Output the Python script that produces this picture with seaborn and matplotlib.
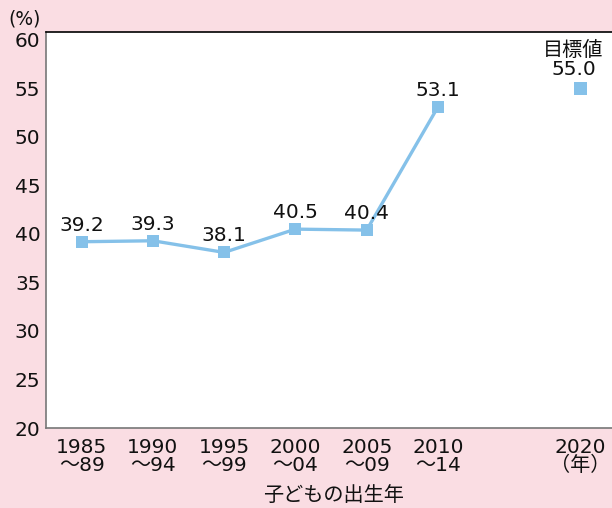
import matplotlib
matplotlib.use("Agg")
import matplotlib.pyplot as plt
import seaborn as sns
import numpy as np
import pandas as pd

# data
periods = ["1985\n～89", "1990\n～94", "1995\n～99", "2000\n～04", "2005\n～09", "2010\n～14"]
rates = [39.2, 39.3, 38.1, 40.5, 40.4, 53.1]
target_label = "2020\n（年）"
target_value = 55.0

BG = "#fadde3"
BLUE = "#85c1e9"
FS = 14.5

sns.set_theme(style="white")
plt.rcParams["font.family"] = ["DejaVu Sans", "Noto Sans CJK JP"]

fig = plt.figure(figsize=(6.12, 5.08), dpi=100, facecolor=BG)
ax = fig.add_axes([46 / 612, 80 / 508, 568 / 612, 396 / 508])
ax.set_facecolor("white")

df = pd.DataFrame({"pos": np.arange(len(periods)), "rate": rates})
sns.lineplot(data=df, x="pos", y="rate", ax=ax, color=BLUE, linewidth=2.4,
             marker="s", markersize=9, markeredgewidth=0, markerfacecolor=BLUE)
target_pos = len(periods) + 1
sns.scatterplot(x=[target_pos], y=[target_value], ax=ax, marker="s", s=85,
                color=BLUE, edgecolor="none")

# value labels
for p, v in zip(df["pos"], df["rate"]):
    ax.text(p, v + 1.7, f"{v:.1f}", ha="center", va="center", fontsize=FS, color="#111111")
ax.text(target_pos - 0.1, target_value + 1.0, f"目標値\n{target_value:.1f}", ha="center",
        va="bottom", fontsize=FS, color="#111111", linespacing=1.0)

ax.set_ylim(20, 60.82)
ax.set_xlim(-0.5, 7.47)
ax.set_yticks(range(20, 61, 5))
ax.set_xticks(range(8))
ax.set_xticklabels(periods + ["", target_label], fontsize=FS, linespacing=0.95)
ax.set_xticks(np.arange(0.5, 7.5, 1), minor=True)
ax.tick_params(axis="x", which="major", length=0, pad=7, colors="#111111")
ax.tick_params(axis="x", which="minor", length=5, direction="in", width=0.8, color="#222222")
ax.tick_params(axis="y", which="major", length=5, direction="in", width=0.8,
               color="#222222", labelsize=FS, labelcolor="#111111", pad=4)
ax.set_xlabel("")
ax.set_ylabel("")

for side in ["left", "bottom"]:
    ax.spines[side].set_color("#777777")
    ax.spines[side].set_linewidth(1.2)
ax.spines["top"].set_color("black")
ax.spines["top"].set_linewidth(1.2)
ax.spines["right"].set_visible(False)

fig.text(25 / 612, 1 - 19 / 508, "(%)", ha="center", va="center", fontsize=13.5, color="#111111")
fig.text(333 / 612, 1 - 495 / 508, "子どもの出生年", ha="center", va="center", fontsize=FS,
         color="#111111")

fig.savefig("out.png", dpi=100, facecolor=BG)
